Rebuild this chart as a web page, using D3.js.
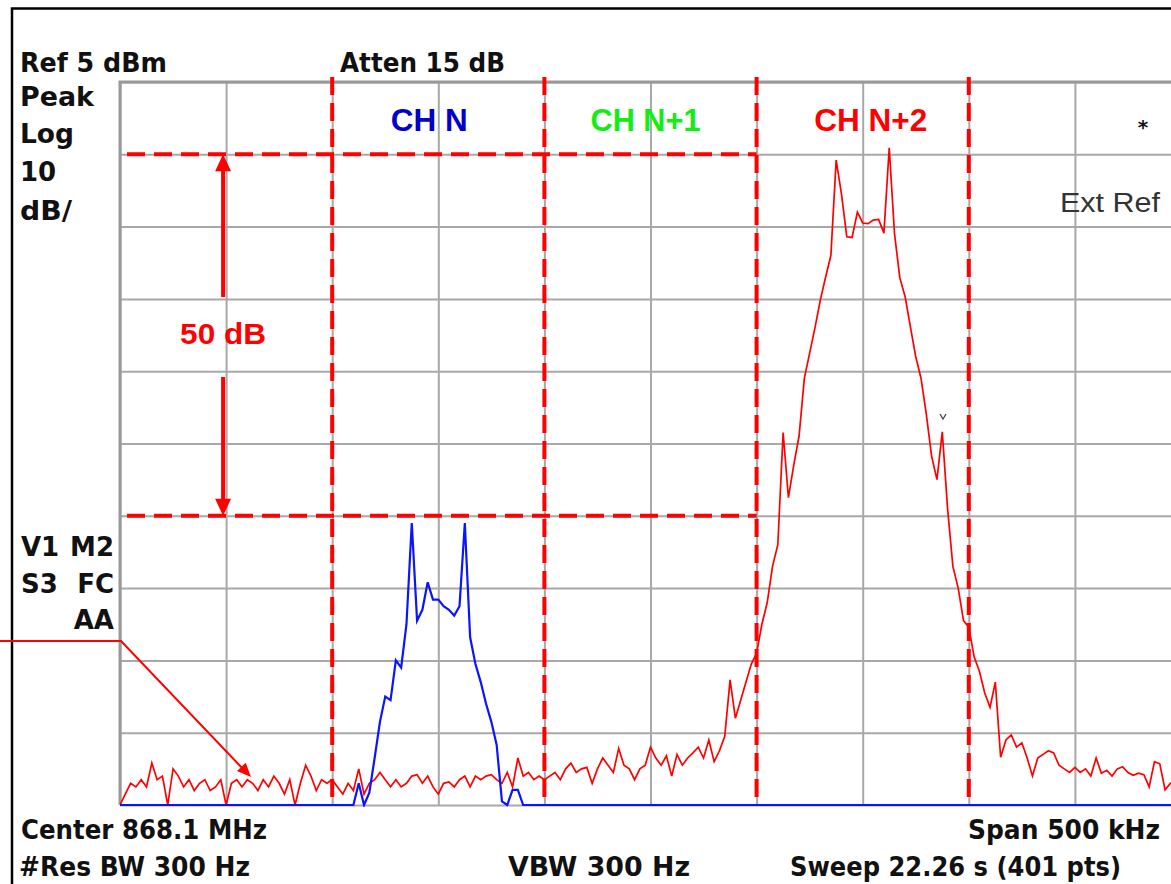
<!DOCTYPE html>
<html><head><meta charset="utf-8">
<script src="https://cdn.jsdelivr.net/npm/d3@7"></script>
<style>html,body{margin:0;padding:0;background:#fff;overflow:hidden}</style>
</head><body><svg id="c" width="1171" height="884"></svg>
<script>
// ---- data ----
const START_MHZ = 867.85, STOP_MHZ = 868.35;   // Center 868.1 MHz, Span 500 kHz
const REF_DBM = 5, BOTTOM_DBM = -95;            // Ref 5 dBm, 10 dB/div
const freqGridMHz = [867.85, 867.90, 867.95, 868.00, 868.05, 868.10, 868.15, 868.20, 868.25, 868.30, 868.35];
const levelGridDbm = [5, -5, -15, -25, -35, -45, -55, -65, -75, -85, -95];
const channelEdgesMHz = [867.95, 868.05, 868.15, 868.25];
const channelCentersMHz = [868.0, 868.1, 868.2];
const channelLabels = ["CH N", "CH N+1", "CH N+2"];
const levelLinesDbm = [-5, -55];
const levelLabel = "50 dB";
const leftLabels = ["Peak", "Log", "10", "dB/"];
const statusLeft = ["V1", "S3"];
const statusRight = ["M2", "FC", "AA"];
const headerLabels = ["Ref 5 dBm", "Atten 15 dB"];
const footerLabels = ["Center 868.1 MHz", "Span 500 kHz", "#Res BW 300 Hz", "VBW 300 Hz", "Sweep 22.26 s (401 pts)"];
const extRefLabel = "Ext Ref";

// trace sampled at 2.5 kHz steps across the span (dBm)
const redTrace = [
 -95,-93.5,-92,-92.5,-91.5,-92.5,-89.2,-91.5,-91,-95,
 -90,-91,-92.5,-91.5,-93,-92,-91.5,-93,-92.5,-91.5,
 -95,-92,-91.5,-92.5,-91.5,-92,-93,-91.5,-92.5,-91,
 -92,-93.5,-91.5,-95,-92,-89.5,-91,-93,-91.5,-92,
 -91.5,-92.5,-93.5,-92,-93,-90,-93.5,-92,-91.5,-90.5,
 -91.5,-92.5,-91.5,-92.5,-92,-91,-90.8,-92,-91,-92.5,
 -93.5,-92,-91.8,-92.5,-91.5,-91,-92.5,-91,-91.5,-91,
 -90.8,-91.5,-92,-90.5,-92.5,-88.5,-91,-90.5,-91.5,-91,
 -91.5,-91,-90.5,-91.5,-90,-89.2,-90.5,-90,-89.8,-92,
 -90,-88.5,-89.5,-90.5,-87.2,-89.5,-90,-91.5,-90,-89.5,
 -87,-88.5,-89.5,-88.2,-91,-88,-89.5,-88.5,-87.8,-87,
 -88.5,-86,-89,-87.5,-85.5,-77.7,-83,-80.5,-78,-75.5,
 -74,-70,-67,-62,-59,-43.5,-52.5,-48,-44,-36,
 -32.5,-29,-25.2,-22,-19,-5.8,-10.5,-16.4,-16.5,-13,
 -14.5,-14.6,-14.1,-14,-15.9,-4.1,-16,-22.1,-24.7,-28.9,
 -33,-36,-41,-46.8,-50,-43.4,-54,-62,-65,-69.5,
 -70.4,-74.5,-76.5,-79.5,-81.5,-78,-88.4,-86,-85.3,-87,
 -86.4,-88.5,-91,-88.5,-88,-87.5,-87.8,-89.5,-90,-90.5,
 -89.8,-90.5,-90,-91,-88.5,-90.6,-90.2,-91,-90,-89.7,
 -90.5,-90.9,-90.6,-90.8,-92.5,-89,-89.3,-92.9,-92,-91.5,
 -91
];
const blueTrace = [
 -95,-95,-95,-95,-95,-95,-95,-95,-95,-95,
 -95,-95,-95,-95,-95,-95,-95,-95,-95,-95,
 -95,-95,-95,-95,-95,-95,-95,-95,-95,-95,
 -95,-95,-95,-95,-95,-95,-95,-95,-95,-95,
 -95,-95,-95,-95,-95,-92,-95,-93.3,-88.5,-83.5,
 -80,-80.5,-75,-76,-70,-56,-69.5,-68,-64.2,-66.6,
 -66.6,-67.5,-68,-68.8,-67.5,-56,-71.8,-75.5,-78,-81,
 -83.5,-86.7,-94.5,-95,-92.9,-92.9,-95,-95,-95,-95,
 -95,-95,-95,-95,-95,-95,-95,-95,-95,-95,
 -95,-95,-95,-95,-95,-95,-95,-95,-95,-95,
 -95,-95,-95,-95,-95,-95,-95,-95,-95,-95,
 -95,-95,-95,-95,-95,-95,-95,-95,-95,-95,
 -95,-95,-95,-95,-95,-95,-95,-95,-95,-95,
 -95,-95,-95,-95,-95,-95,-95,-95,-95,-95,
 -95,-95,-95,-95,-95,-95,-95,-95,-95,-95,
 -95,-95,-95,-95,-95,-95,-95,-95,-95,-95,
 -95,-95,-95,-95,-95,-95,-95,-95,-95,-95,
 -95,-95,-95,-95,-95,-95,-95,-95,-95,-95,
 -95,-95,-95,-95,-95,-95,-95,-95,-95,-95,
 -95,-95,-95,-95,-95,-95,-95,-95,-95,-95,
 -95
];

// ---- layout ----
const svg = d3.select("#c");
const L = 120, R = 1181, T = 82, B = 805;
const x = d3.scaleLinear().domain([START_MHZ, STOP_MHZ]).range([L, R]);
const y = d3.scaleLinear().domain([BOTTOM_DBM, REF_DBM]).range([B, T]);
const xi = d3.scaleLinear().domain([0, redTrace.length - 1]).range([x(START_MHZ), x(STOP_MHZ)]);

const BLACKFONT = "'DejaVu Sans', Verdana, sans-serif";
const ARIAL = "'Liberation Sans', Arial, sans-serif";

// outer frame
svg.append("path").attr("d", "M12,884 V8.5 H1171").attr("fill", "none")
  .attr("stroke", "#000").attr("stroke-width", 2.5);

// grid via axes
const gx = svg.append("g").attr("transform", `translate(0,${B})`)
  .call(d3.axisBottom(x).tickValues(freqGridMHz).tickSize(-(B - T)).tickFormat(""));
const gy = svg.append("g").attr("transform", `translate(${L},0)`)
  .call(d3.axisLeft(y).tickValues(levelGridDbm).tickSize(-(R - L)).tickFormat(""));
[gx, gy].forEach(g => {
  g.select(".domain").remove();
  g.selectAll(".tick line").attr("stroke", "#a8a8a8").attr("stroke-width", 2);
});
// heavier top/left border
svg.append("path").attr("d", `M${L},${B} V${T} H${R}`).attr("fill", "none")
  .attr("stroke", "#999").attr("stroke-width", 3);

// red dashed channel edges and level lines
svg.append("g").selectAll("line").data(channelEdgesMHz).join("line")
  .attr("x1", d => x(d)).attr("x2", d => x(d)).attr("y1", 77).attr("y2", 800)
  .attr("stroke", "#ff0000").attr("stroke-width", 4).attr("stroke-dasharray", "18,8");
svg.append("g").selectAll("line").data(levelLinesDbm).join("line")
  .attr("x1", L + 7).attr("x2", x(channelEdgesMHz[2])).attr("y1", d => y(d)).attr("y2", d => y(d))
  .attr("stroke", "#ff0000").attr("stroke-width", 4).attr("stroke-dasharray", "18,9");

// traces
svg.append("clipPath").attr("id", "plotclip").append("rect")
  .attr("x", L).attr("y", T - 2).attr("width", R - L).attr("height", B - T + 4);
const line = d3.line().x((d, i) => xi(i)).y(d => y(d));
const tg = svg.append("g").attr("clip-path", "url(#plotclip)");
tg.append("path").datum(redTrace).attr("d", line).attr("fill", "none")
  .attr("stroke", "#ff0000").attr("stroke-width", 1.7).attr("stroke-linejoin", "miter");
tg.append("path").datum(blueTrace).attr("d", line).attr("fill", "none")
  .attr("stroke", "#0a14ff").attr("stroke-width", 2.2).attr("stroke-linejoin", "miter");

// 50 dB arrow
const ax = x(START_MHZ + 0.05) - 3;
const yTop = y(levelLinesDbm[0]), yBot = y(levelLinesDbm[1]);
svg.append("line").attr("x1", ax).attr("x2", ax).attr("y1", yTop + 14).attr("y2", 297)
  .attr("stroke", "#ff0000").attr("stroke-width", 4);
svg.append("line").attr("x1", ax).attr("x2", ax).attr("y1", 377).attr("y2", yBot - 14)
  .attr("stroke", "#ff0000").attr("stroke-width", 4);
svg.append("path").attr("d", `M${ax},${yTop} L${ax - 8},${yTop + 17} L${ax + 8},${yTop + 17} Z`).attr("fill", "#ff0000");
svg.append("path").attr("d", `M${ax},${yBot} L${ax - 8},${yBot - 17} L${ax + 8},${yBot - 17} Z`).attr("fill", "#ff0000");
svg.append("text").attr("x", ax).attr("y", 344).attr("text-anchor", "middle")
  .attr("font-family", ARIAL).attr("font-weight", "bold").attr("font-size", 30)
  .attr("fill", "#ff0000").attr("textLength", 86).attr("lengthAdjust", "spacingAndGlyphs").text(levelLabel);

// channel labels
const chColors = ["#0000cc", "#11ee11", "#ff0000"];
const chDx = [-9, -5, 8];
const chLen = [77, 110, 113];
svg.append("g").selectAll("text").data(channelLabels).join("text")
  .attr("x", (d, i) => x(channelCentersMHz[i]) + chDx[i]).attr("y", 131)
  .attr("text-anchor", "middle").attr("font-family", ARIAL).attr("font-weight", "bold")
  .attr("font-size", 31).attr("fill", (d, i) => chColors[i])
  .attr("textLength", (d, i) => chLen[i]).attr("lengthAdjust", "spacingAndGlyphs").text(d => d);

// pointer annotation
svg.append("path").attr("d", "M0,641 H121 L244,770").attr("fill", "none")
  .attr("stroke", "#ff0000").attr("stroke-width", 2);
(function () {
  const tx = 251, ty = 777, dx = 129, dy = 136, len = Math.hypot(dx, dy);
  const ux = dx / len, uy = dy / len, hl = 14, hw = 6;
  const bx = tx - ux * hl, by = ty - uy * hl;
  svg.append("path").attr("d",
    `M${tx},${ty} L${bx - uy * hw},${by + ux * hw} L${bx + uy * hw},${by - ux * hw} Z`).attr("fill", "#ff0000");
})();

// marker glyph near the spur
svg.append("path").attr("d", "M940,414 L943,419 L946,414").attr("fill", "none")
  .attr("stroke", "#444").attr("stroke-width", 1.3);

// black instrument annotations
function blk(txt, xx, yy, anchor, len) {
  const t = svg.append("text").attr("x", xx).attr("y", yy).attr("text-anchor", anchor || "start")
    .attr("font-family", BLACKFONT).attr("font-weight", "bold").attr("font-size", 26)
    .attr("fill", "#111").text(txt);
  if (len) t.attr("textLength", len).attr("lengthAdjust", "spacingAndGlyphs");
  return t;
}
blk(headerLabels[0], 20, 72, "start", 147);
blk(headerLabels[1], 340, 72, "start", 165);
const leftY = [106, 143, 181, 220];
const leftLen = [74, 54, 0, 52];
leftLabels.forEach((s, i) => blk(s, 20, leftY[i], "start", leftLen[i] || null));
const statY = [556, 593, 629];
statusLeft.forEach((s, i) => blk(s, 21, statY[i]));
statusRight.forEach((s, i) => blk(s, 114, statY[i], "end"));
blk(footerLabels[0], 21, 839, "start", 246);
blk(footerLabels[1], 1160, 839, "end", 192);
blk(footerLabels[2], 19, 876, "start", 231);
blk(footerLabels[3], 508, 876, "start", 182);
blk(footerLabels[4], 790, 876, "start", 331);
svg.append("text").attr("x", 1143).attr("y", 134).attr("text-anchor", "middle")
  .attr("font-family", BLACKFONT).attr("font-weight", "bold").attr("font-size", 20)
  .attr("fill", "#111").text("*");
svg.append("text").attr("x", 1060).attr("y", 212).attr("font-family", ARIAL)
  .attr("font-size", 27).attr("fill", "#333").attr("textLength", 100)
  .attr("lengthAdjust", "spacingAndGlyphs").text(extRefLabel);
</script></body></html>
